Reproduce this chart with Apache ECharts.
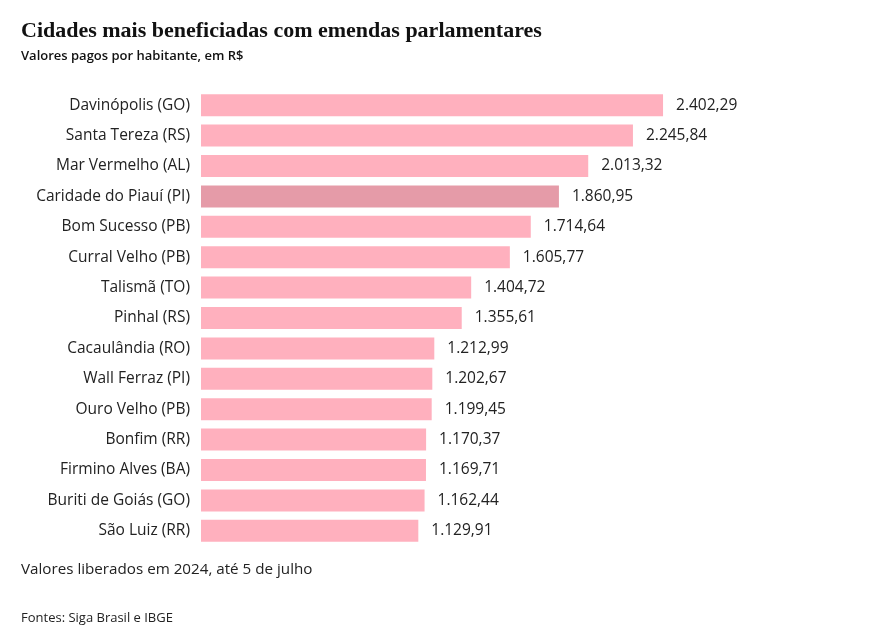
<!DOCTYPE html>
<html><head><meta charset="utf-8">
<script src="https://cdn.jsdelivr.net/npm/echarts@6/dist/echarts.min.js"></script>
<style>html,body{margin:0;padding:0;background:#fff}#c{width:872px;height:636px}</style>
</head><body><div id="c"></div>
<script>
const cities = ["Davinópolis (GO)","Santa Tereza (RS)","Mar Vermelho (AL)","Caridade do Piauí (PI)","Bom Sucesso (PB)","Curral Velho (PB)","Talismã (TO)","Pinhal (RS)","Cacaulândia (RO)","Wall Ferraz (PI)","Ouro Velho (PB)","Bonfim (RR)","Firmino Alves (BA)","Buriti de Goiás (GO)","São Luiz (RR)"];
const values = [2402.29,2245.84,2013.32,1860.95,1714.64,1605.77,1404.72,1355.61,1212.99,1202.67,1199.45,1170.37,1169.71,1162.44,1129.91];
const highlighted = ["Caridade do Piauí (PI)"];

const fmt = v => v.toLocaleString('pt-BR',{minimumFractionDigits:2,maximumFractionDigits:2});
const font = "'Open Sans', 'Noto Sans', sans-serif";
const chart = echarts.init(document.getElementById('c'));
chart.setOption({
  animation:false,
  graphic:[
    {type:'text',left:21,top:20,style:{text:'Cidades mais beneficiadas com emendas parlamentares',font:"bold 22px 'Liberation Serif', 'DejaVu Serif', serif",fill:'#111'}},
    {type:'text',left:21,top:50,style:{text:'Valores pagos por habitante, em R$',font:"600 13px "+font,fill:'#111'}},
    {type:'text',left:21,top:562,style:{text:'Valores liberados em 2024, até 5 de julho',font:"15.2px "+font,fill:'#222'}},
    {type:'text',left:21,top:612,style:{text:'Fontes: Siga Brasil e IBGE',font:"13px "+font,fill:'#222'}}
  ],
  grid:{left:201,top:90,width:577,height:456,containLabel:false},
  xAxis:{type:'value',min:0,max:3000,show:false},
  yAxis:{type:'category',data:cities,inverse:true,
    axisLine:{show:false},axisTick:{show:false},
    axisLabel:{margin:11,fontSize:15.5,color:'#222',fontFamily:font}},
  series:[{type:'bar',barWidth:22,
    data:values.map((v,i)=>({value:v,itemStyle:{color:highlighted.includes(cities[i])?'#E59BA8':'#FFB0BE'}})),
    label:{show:true,position:'right',distance:13,fontSize:15.5,color:'#222',fontFamily:font,formatter:p=>fmt(p.value)}
  }]
});
</script></body></html>
